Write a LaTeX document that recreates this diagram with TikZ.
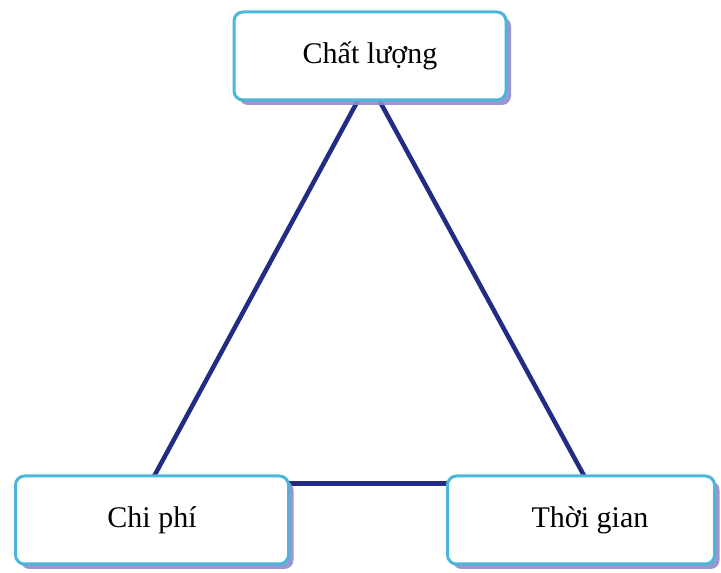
\documentclass[tikz,border=0pt]{standalone}
\usepackage{fontspec}
\setmainfont{Liberation Serif}
\usetikzlibrary{shadows,calc,backgrounds}
\definecolor{boxline}{HTML}{4AB6DA}
\definecolor{shadowcol}{HTML}{8E8CCB}
\definecolor{linkcol}{HTML}{222C82}
\tikzset{
  vbox/.style={draw=boxline, line width=3pt, fill=white, rounded corners=9pt,
    minimum width=#1, minimum height=88pt, inner sep=0pt, font=\fontsize{30}{34}\selectfont,
    drop shadow={shadow xshift=5pt, shadow yshift=-5pt, fill=shadowcol, opacity=0.9}},
  link/.style={draw=linkcol, line width=4.5pt}
}
\begin{document}
\begin{tikzpicture}[x=1pt,y=1pt]
\useasboundingbox (0,0) rectangle (721,573);
\node[vbox=272pt] (cl) at (370,517) {\raisebox{4pt}{Chất lượng}};
\node[vbox=273pt] (cp) at (152,53) {\raisebox{2pt}{Chi phí}};
\node[vbox=267pt] (tg) at (581,53) {\hspace{18pt}\raisebox{4pt}{Thời gian}};
\begin{pgfonlayer}{background}
\coordinate (clL) at ($(cl.south west)!0.47!(cl.south east)$);
\coordinate (clR) at ($(cl.south west)!0.52!(cl.south east)$);
\coordinate (cpT) at ($(cp.north west)!0.51!(cp.north east)$);
\coordinate (tgT) at ($(tg.north west)!0.51!(tg.north east)$);
\coordinate (cpE) at ($(cp.north east)!0.1!(cp.south east)$);
\coordinate (tgW) at ($(tg.north west)!0.1!(tg.south west)$);
\draw[link] ($(clL)+(0,8)$) -- ($(cpT)+(-3,-6)$);
\draw[link] ($(clR)+(0,8)$) -- ($(tgT)+(3,-6)$);
\draw[link] ($(cpE)+(-6,0)$) -- ($(tgW)+(6,0)$);
\end{pgfonlayer}
\end{tikzpicture}
\end{document}
